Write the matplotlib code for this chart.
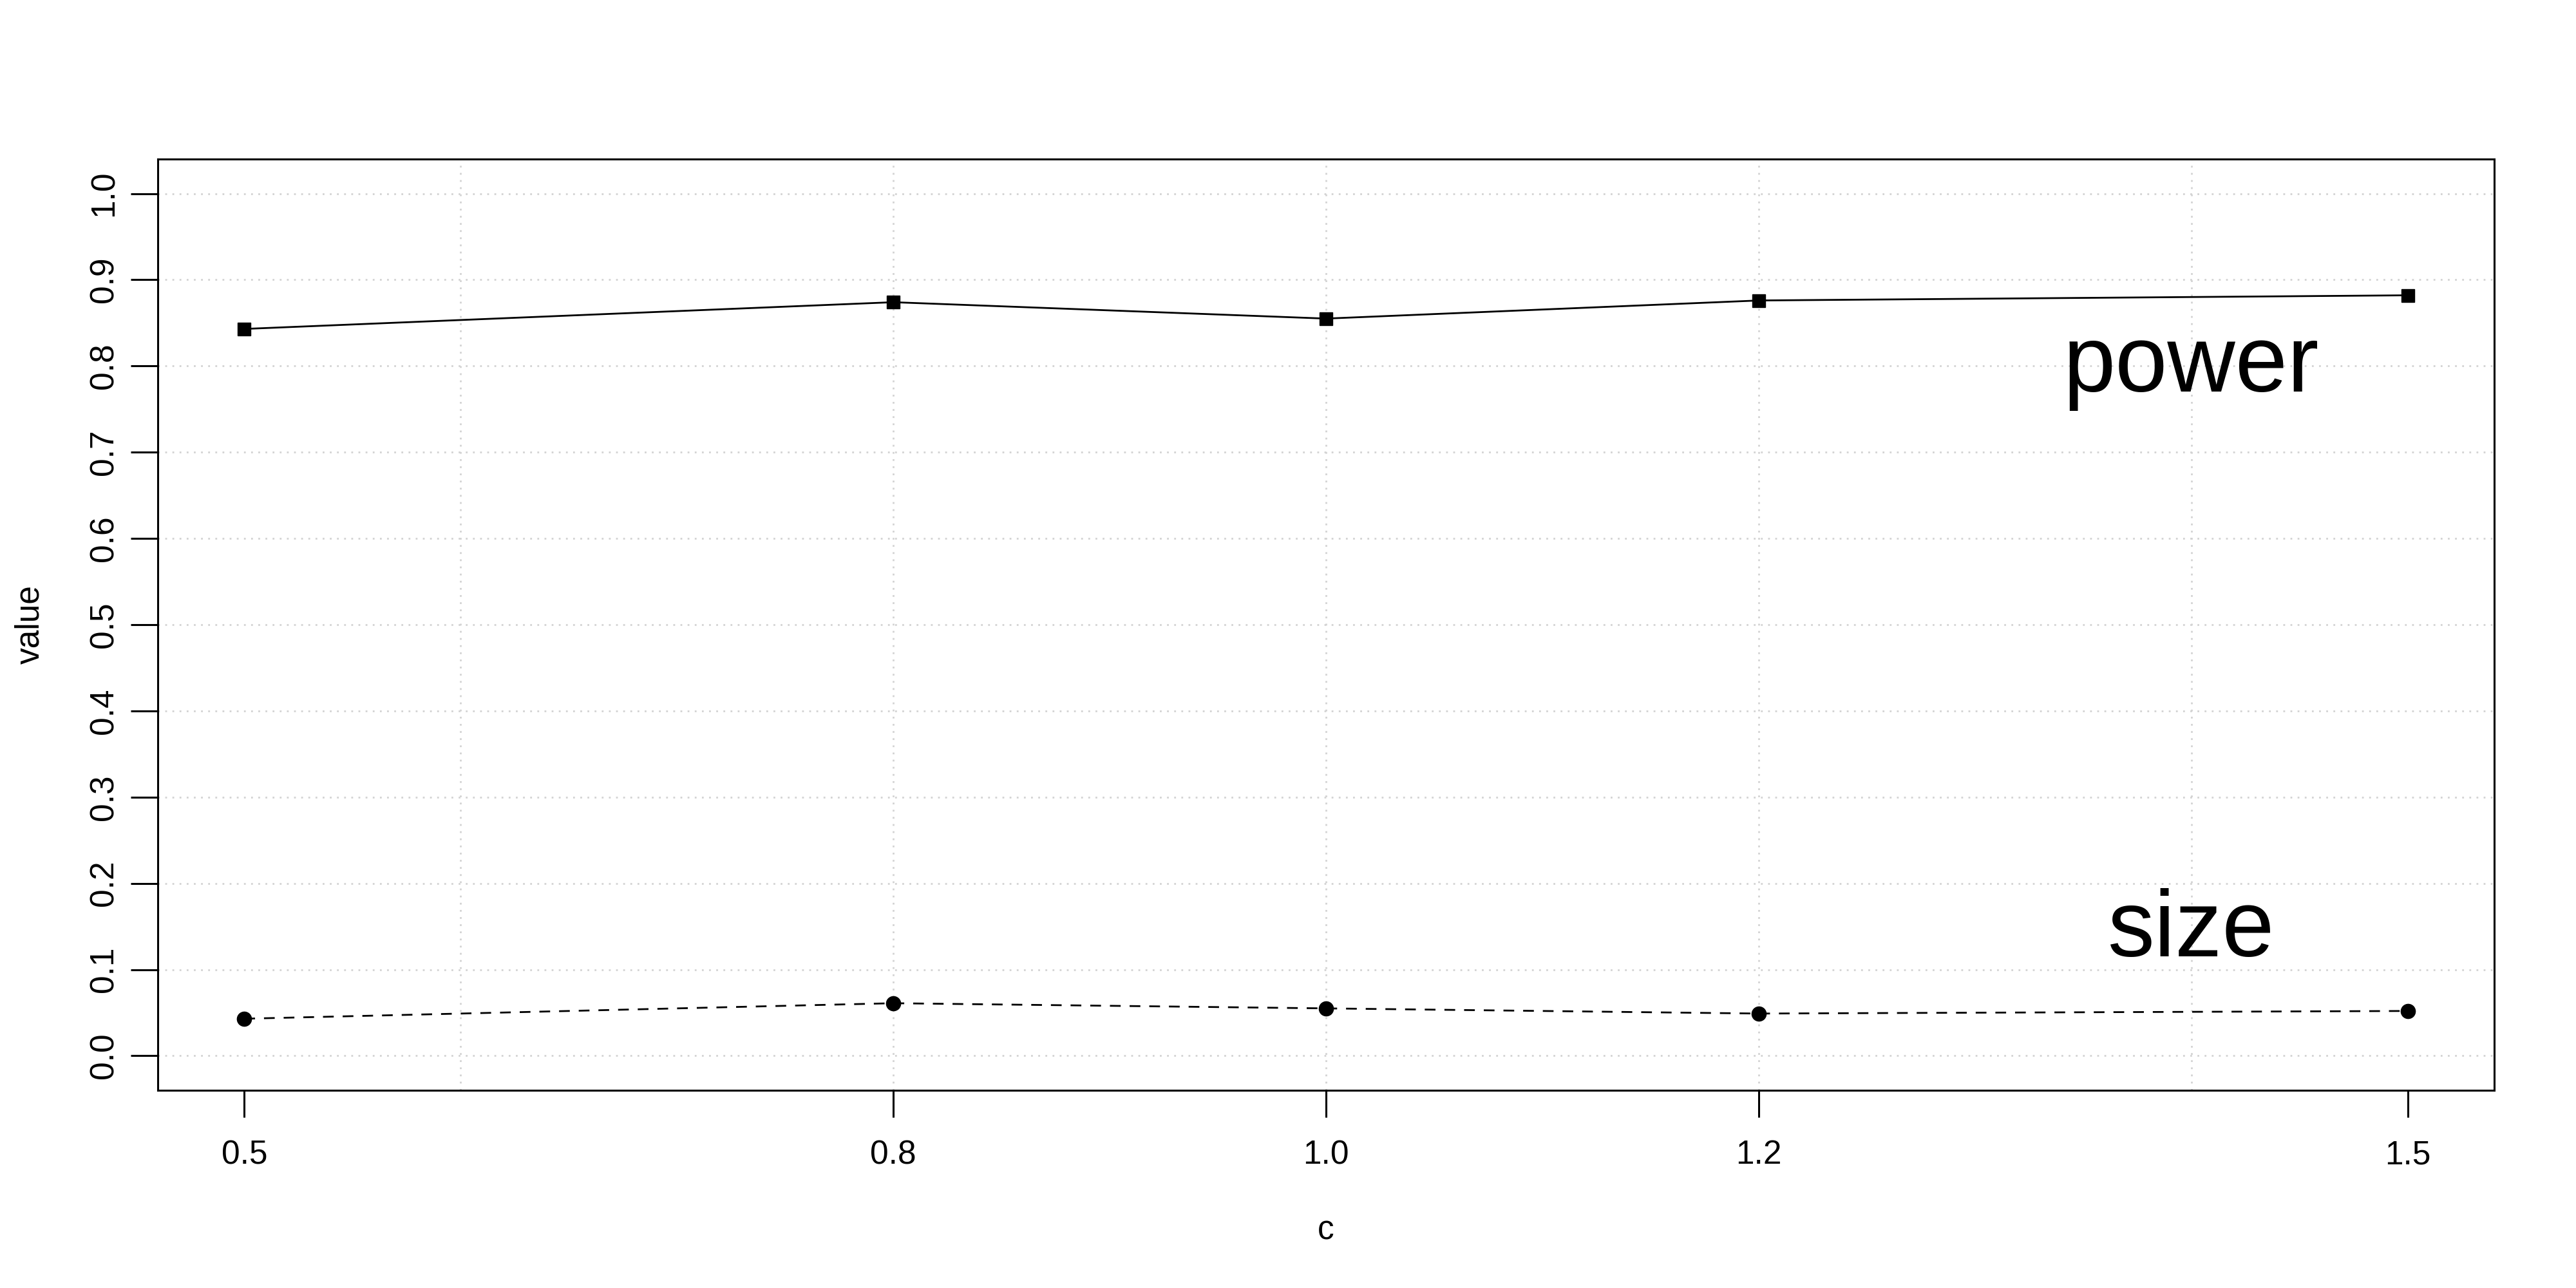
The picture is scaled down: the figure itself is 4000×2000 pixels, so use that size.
import matplotlib.pyplot as plt

plt.rcParams['font.family'] = ['Liberation Sans', 'DejaVu Sans']

c_values = [0.5, 0.8, 1.0, 1.2, 1.5]
power = [0.843, 0.874, 0.855, 0.876, 0.882]
size = [0.043, 0.061, 0.055, 0.049, 0.052]

x_grid = [0.6, 0.8, 1.0, 1.2, 1.4]
y_ticks = [0.0, 0.1, 0.2, 0.3, 0.4, 0.5, 0.6, 0.7, 0.8, 0.9, 1.0]

fig = plt.figure(figsize=(40, 20), dpi=100)
ax = fig.add_axes([0.06125, 0.1535, 0.907, 0.723])

# grid like R's grid(): light gray dotted
for gx in x_grid:
    ax.axvline(gx, color='#d3d3d3', lw=2, linestyle=(0, (1, 3)), zorder=1)
for gy in y_ticks:
    ax.axhline(gy, color='#d3d3d3', lw=2, linestyle=(0, (1, 3)), zorder=1)

ax.plot(c_values, power, color='black', lw=2, marker='s', ms=15, zorder=3)
ax.plot(c_values, size, color='black', lw=2, linestyle=(0, (6, 5)),
        marker='o', ms=16, zorder=3)

ax.text(1.4, 0.770, 'power', fontsize=105, ha='center', va='baseline')
ax.text(1.4, 0.115, 'size', fontsize=105, ha='center', va='baseline')

ax.set_xlim(0.46, 1.54)
ax.set_ylim(-0.04, 1.04)
ax.set_xticks(c_values)
ax.set_xticklabels([f'{v:.1f}' for v in c_values])
ax.set_yticks(y_ticks)
ax.set_yticklabels([f'{v:.1f}' for v in y_ticks], rotation=90, va='center')

ax.tick_params(axis='both', length=30, width=2.2, labelsize=37, pad=12)
ax.tick_params(axis='x', pad=25)
for s in ax.spines.values():
    s.set_linewidth(2.2)

ax.set_xlabel('c', fontsize=37, labelpad=49)
ax.set_ylabel('value', fontsize=37, labelpad=48)

fig.savefig('out.png', dpi=100, facecolor='white')
